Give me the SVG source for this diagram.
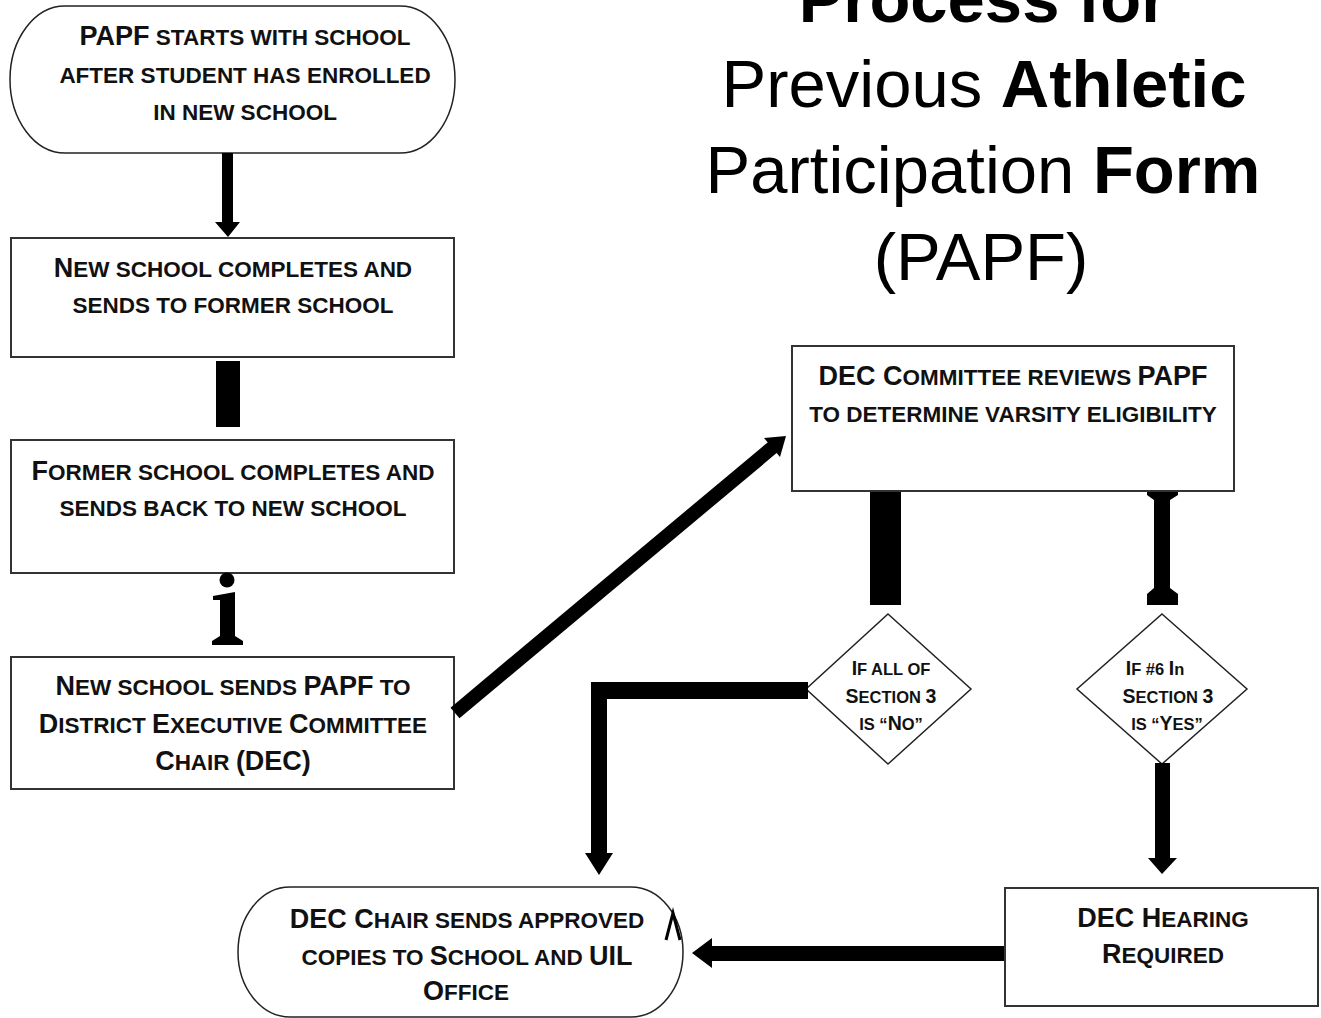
<svg xmlns="http://www.w3.org/2000/svg" width="1321" height="1018" viewBox="0 0 1321 1018">
<style>
.box{fill:#fff;stroke:#333;stroke-width:2}
.term{fill:#fff;stroke:#222;stroke-width:1.5}
.t{font-family:"Liberation Sans",Arial,sans-serif;font-weight:bold;font-size:22.5px;fill:#111;text-anchor:middle}
.b{font-size:27px}
.d{font-family:"Liberation Sans",Arial,sans-serif;font-weight:bold;font-size:16.5px;fill:#111;text-anchor:middle}
.db{font-size:19.5px}
.title{font-family:"Liberation Sans",Arial,sans-serif;font-size:67px;fill:#000;text-anchor:middle}
.bold{font-weight:bold}
.c{fill:#000}
</style>
<rect width="1321" height="1018" fill="#fff"/>

<g id="title">
<text class="title bold" x="983" y="22">Process for</text>
<text class="title" x="984" y="107">Previous <tspan class="bold">Athletic</tspan></text>
<text class="title" x="983" y="193">Participation <tspan class="bold">Form</tspan></text>
<text class="title" x="981" y="280">(PAPF)</text>
</g>

<g id="start">
<path class="term" d="M65,6 H400 A55,73.5 0 0 1 400,153 H65 A55,73.5 0 0 1 65,6 Z"/>
<text class="t" x="245" y="45"><tspan class="b">PAPF</tspan> STARTS WITH SCHOOL</text>
<text class="t" x="245" y="83">AFTER STUDENT HAS ENROLLED</text>
<text class="t" x="245" y="120">IN NEW SCHOOL</text>
</g>

<g id="new-school-completes">
<rect class="box" x="11" y="238" width="443" height="119"/>
<text class="t" x="233" y="277"><tspan class="b">N</tspan>EW SCHOOL COMPLETES AND</text>
<text class="t" x="233" y="313">SENDS TO FORMER SCHOOL</text>
</g>

<g id="former-school-completes">
<rect class="box" x="11" y="440" width="443" height="133"/>
<text class="t" x="233" y="480"><tspan class="b">F</tspan>ORMER SCHOOL COMPLETES AND</text>
<text class="t" x="233" y="516">SENDS BACK TO NEW SCHOOL</text>
</g>

<g id="new-school-sends">
<rect class="box" x="11" y="657" width="443" height="132"/>
<text class="t" x="233" y="695"><tspan class="b">N</tspan>EW SCHOOL SENDS <tspan class="b">PAPF</tspan> TO</text>
<text class="t" x="233" y="733"><tspan class="b">D</tspan>ISTRICT <tspan class="b">E</tspan>XECUTIVE <tspan class="b">C</tspan>OMMITTEE</text>
<text class="t" x="233" y="770"><tspan class="b">C</tspan>HAIR <tspan class="b">(DEC)</tspan></text>
</g>

<g id="dec-committee">
<rect class="box" x="792" y="346" width="442" height="145"/>
<text class="t" x="1013" y="385"><tspan class="b">DEC C</tspan>OMMITTEE REVIEWS <tspan class="b">PAPF</tspan></text>
<text class="t" x="1013" y="422">TO DETERMINE VARSITY ELIGIBILITY</text>
</g>

<g id="decision-no">
<polygon class="term" points="888,614 971,689 888,764 806,689"/>
<text class="d" x="891" y="675"><tspan class="db">I</tspan>F ALL OF</text>
<text class="d" x="891" y="703"><tspan class="db">S</tspan>ECTION <tspan class="db">3</tspan></text>
<text class="d" x="891" y="730">IS “<tspan class="db">N</tspan>O”</text>
</g>

<g id="decision-yes">
<polygon class="term" points="1162,614 1247,689 1162,764 1077,689"/>
<text class="d" x="1155" y="675"><tspan class="db">I</tspan>F #6 <tspan class="db">I</tspan>n</text>
<text class="d" x="1168" y="703"><tspan class="db">S</tspan>ECTION <tspan class="db">3</tspan></text>
<text class="d" x="1167" y="730">IS “<tspan class="db">Y</tspan>ES”</text>
</g>

<g id="dec-hearing">
<rect class="box" x="1005" y="888" width="313" height="118"/>
<text class="t" x="1163" y="927"><tspan class="b">DEC H</tspan>EARING</text>
<text class="t" x="1163" y="963"><tspan class="b">R</tspan>EQUIRED</text>
</g>

<g id="end">
<path class="term" d="M290,887 H631 A52,65 0 0 1 631,1017 H290 A52,65 0 0 1 290,887 Z"/>
<text class="t" x="467" y="928"><tspan class="b">DEC C</tspan>HAIR SENDS APPROVED</text>
<text class="t" x="467" y="965">COPIES TO <tspan class="b">S</tspan>CHOOL AND <tspan class="b">UIL</tspan></text>
<text class="t" x="466" y="1000"><tspan class="b">O</tspan>FFICE</text>
</g>

<g id="connectors">
<path class="c" d="M222,153 H233 V222 H240 L228,237 L215,222 H222 Z"/>
<rect class="c" x="216" y="361" width="24" height="66"/>
<circle class="c" cx="227" cy="580" r="7.5"/>
<path class="c" d="M213,596 L235,592 V636 L243,641 V645 H212 V641 L220,636 V600 L213,600 Z"/>
<line x1="455" y1="713" x2="773" y2="447" stroke="#000" stroke-width="14"/>
<path class="c" d="M786,436 L780,457 L764,438 Z"/>
<rect class="c" x="870" y="492" width="31" height="113"/>
<path class="c" d="M1147,492 H1178 V495 L1170,500 V588 L1178,594 V605 H1147 V594 L1154,588 V500 L1147,495 Z"/>
<path class="c" d="M808,682 H591 V853 H585 L599,875 L613,853 H607 V699 H808 Z"/>
<path class="c" d="M1155,763 H1170 V858 H1177 L1162,874 L1148,858 H1155 Z"/>
<path class="c" d="M1004,946 V961 H712 V968 L692,953 L712,938 V946 Z"/>
<polyline points="666,940 673,913 680,940" fill="none" stroke="#000" stroke-width="3"/>
</g>
</svg>
